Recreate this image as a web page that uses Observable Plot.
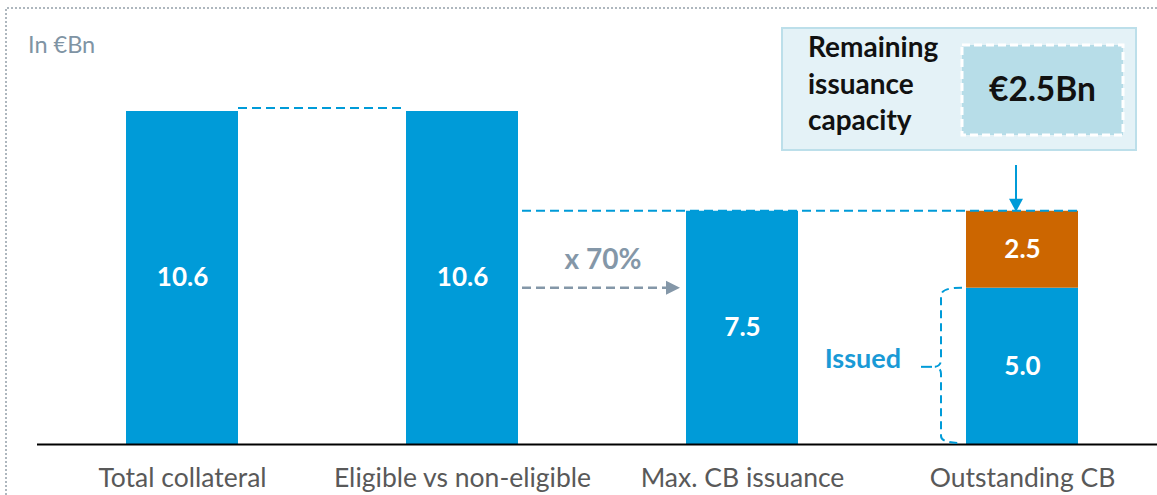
<!DOCTYPE html>
<html>
<head>
<meta charset="utf-8">
<script src="https://cdn.jsdelivr.net/npm/d3@7"></script>
<script src="https://cdn.jsdelivr.net/npm/@observablehq/plot@0.6"></script>
<style>
  html, body { margin: 0; padding: 0; background: #fff; }
  #chart { position: relative; width: 1157px; height: 495px; overflow: hidden; font-family: Lato, "Open Sans", sans-serif; }
</style>
</head>
<body>
<div id="chart"></div>
<script>
// ---- data ----
const categories = ["Total collateral", "Eligible vs non-eligible", "Max. CB issuance", "Outstanding CB"];
const baseValues = [10.65, 10.65, 7.46, 5.0];
const baseLabels = ["10.6", "10.6", "7.5", "5.0"];
const remainingValue = 2.46;
const remainingLabel = "2.5";
const unitLabel = "In €Bn";
const ratioLabel = "x 70%";
const issuedLabel = "Issued";
const boxLines = ["Remaining", "issuance", "capacity"];
const boxValue = "€2.5Bn";

const BLUE = "#009bd8";
const ORANGE = "#cc6600";

const rows = categories.map((c, i) => ({cat: c, series: "Issued", value: baseValues[i], label: baseLabels[i]}));
rows.push({cat: categories[3], series: "Remaining", value: remainingValue, label: remainingLabel});

const plot = Plot.plot({
  width: 1157,
  height: 495,
  marginLeft: 37,
  marginRight: 0,
  marginTop: 0,
  marginBottom: 51,
  style: {fontFamily: "Lato, 'Open Sans', sans-serif", background: "transparent", overflow: "visible"},
  x: {domain: categories, range: [42, 1162], paddingInner: 0.6, paddingOuter: 0.3, label: null},
  y: {domain: [0, 10.65], range: [444, 111], axis: null},
  color: {domain: ["Issued", "Remaining"], range: [BLUE, ORANGE]},
  marks: [
    Plot.barY(rows, {x: "cat", y: "value", fill: "series"}),
    Plot.text(rows, Plot.stackY({x: "cat", y: "value", text: "label", fill: "white", fontWeight: "bold", fontSize: 26})),
    Plot.ruleY([0], {stroke: "black", strokeWidth: 2}),
    Plot.axisX({tickSize: 0, tickPadding: 24, fontSize: 26.5, fill: "#595959", label: null})
  ]
});

document.getElementById("chart").appendChild(plot);

// ---- annotations via the plot's own scales ----
const xs = plot.scale("x");
const ys = plot.scale("y");
const X = c => xs.apply(c);
const bw = xs.bandwidth;
const Y = v => ys.apply(v);
const svg = d3.select(plot);
const g = svg.append("g").attr("text-anchor", "start");

// outer dotted frame (left + top)
g.append("path")
  .attr("d", `M6,495 L6,8 L1157,8`)
  .attr("fill", "none").attr("stroke", "#aeb7be").attr("stroke-width", 2).attr("stroke-dasharray", "2,2");

// unit label
g.append("text").attr("x", 28).attr("y", 47).attr("text-anchor", "start").attr("dominant-baseline", "middle")
  .attr("font-size", 23.5).attr("fill", "#7f94a4").text(unitLabel);

// dashed connector between first two bars
g.append("line")
  .attr("x1", X(categories[0]) + bw).attr("x2", X(categories[1]))
  .attr("y1", Y(baseValues[0]) - 3).attr("y2", Y(baseValues[0]) - 3)
  .attr("stroke", BLUE).attr("stroke-width", 2).attr("stroke-dasharray", "9,5");

// dashed connector at max issuance level
const yMax = Y(baseValues[2]);
g.append("line")
  .attr("x1", X(categories[1]) + bw + 4).attr("x2", X(categories[3]) + bw)
  .attr("y1", yMax).attr("y2", yMax)
  .attr("stroke", BLUE).attr("stroke-width", 2).attr("stroke-dasharray", "9,5");

// grey dashed arrow with ratio label
const ya = Y(5.0);
const ax1 = X(categories[1]) + bw + 4, ax2 = X(categories[2]) - 6;
g.append("line").attr("x1", ax1).attr("x2", ax2 - 12).attr("y1", ya).attr("y2", ya)
  .attr("stroke", "#8497a8").attr("stroke-width", 2.5).attr("stroke-dasharray", "9,5");
g.append("path").attr("d", `M${ax2 - 14},${ya - 7} L${ax2},${ya} L${ax2 - 14},${ya + 7} Z`).attr("fill", "#8497a8");
g.append("text").attr("x", (ax1 + ax2) / 2 + 2).attr("y", ya - 26).attr("text-anchor", "middle")
  .attr("dominant-baseline", "middle").attr("font-size", 28).attr("font-weight", "bold")
  .attr("fill", "#8497a8").text(ratioLabel);

// remaining capacity box
const bx = X(categories[3]) - 184;
g.append("rect").attr("x", bx).attr("y", 28).attr("width", 354).attr("height", 122)
  .attr("fill", "#e4f2f7").attr("stroke", "#bcdfea").attr("stroke-width", 2);
g.append("rect").attr("x", bx + 180).attr("y", 45).attr("width", 161).attr("height", 90)
  .attr("fill", "#b7dde8").attr("stroke", "white").attr("stroke-width", 3).attr("stroke-dasharray", "8,4");
boxLines.forEach((t, i) => {
  g.append("text").attr("x", bx + 26).attr("y", 50 + i * 36.5).attr("text-anchor", "start")
    .attr("dominant-baseline", "middle")
    .attr("font-size", 28).attr("font-weight", "bold").attr("fill", "#111").text(t);
});
g.append("text").attr("x", bx + 180 + 80.5).attr("y", 92).attr("text-anchor", "middle")
  .attr("dominant-baseline", "middle").attr("font-size", 33.5).attr("font-weight", "bold")
  .attr("fill", "#111").text(boxValue);

// arrow from box down to stacked bar
const arX = X(categories[3]) + bw / 2 - 6;
g.append("line").attr("x1", arX).attr("x2", arX).attr("y1", 165).attr("y2", yMax - 10)
  .attr("stroke", BLUE).attr("stroke-width", 2);
g.append("path").attr("d", `M${arX - 7},${yMax - 12} L${arX},${yMax + 1} L${arX + 7},${yMax - 12} Z`).attr("fill", BLUE);

// Issued brace
const x3 = X(categories[3]);
const yt = Y(baseValues[3]), yb = Y(0);
const ym = (yt + yb) / 2 + 1;
const bxl = x3 - 25;
g.append("path")
  .attr("d", `M${x3 - 4},${yt} Q${bxl},${yt} ${bxl},${yt + 8} L${bxl},${ym - 7} Q${bxl},${ym - 1} ${bxl - 6},${ym} Q${bxl},${ym + 1} ${bxl},${ym + 7} L${bxl},${yb - 8} Q${bxl},${yb - 1} ${x3 - 4},${yb - 1}`)
  .attr("fill", "none").attr("stroke", BLUE).attr("stroke-width", 2).attr("stroke-dasharray", "8,5");
g.append("line").attr("x1", bxl - 20).attr("x2", bxl - 9).attr("y1", ym).attr("y2", ym)
  .attr("stroke", BLUE).attr("stroke-width", 2);
g.append("text").attr("x", bxl - 40).attr("y", ym - 6).attr("text-anchor", "end")
  .attr("dominant-baseline", "middle").attr("font-size", 27).attr("font-weight", "bold")
  .attr("fill", "#1a9ad6").text(issuedLabel);
</script>
</body>
</html>
